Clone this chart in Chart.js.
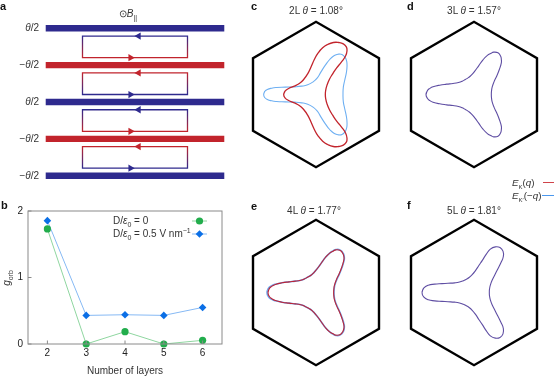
<!doctype html>
<html>

<head>
    <title>Orbital g factor</title>
    <meta charset="utf-8" />
    <script src="https://cdn.jsdelivr.net/npm/chart.js@4"></script>
    <style>
        html, body { margin: 0; background: #fff; overflow: hidden; }
        body { width: 554px; height: 377px; position: relative; font-family: "Liberation Sans", sans-serif; color: #333; }
        canvas { position: absolute; }
        .t { position: absolute; font-size: 10px; line-height: 12px; white-space: nowrap; transform: translate(-50%, -50%); }
        .r { transform: translate(-100%, -50%); }
        .l { transform: translate(0, -50%); }
        .p { font-weight: bold; font-size: 11px; color: #111; transform: translate(0, -50%); }
        .v { font-size: 9.8px; }
        sub, sup { font-size: 7px; line-height: 0; }
        .v sub { font-size: 6px; }
        i { font-style: italic; }
        .k { position: absolute; height: 1px; }
    </style>
</head>

<body>
    <canvas id="joonisA" width="240" height="190" style="left:0;top:0"></canvas>
    <canvas id="joonisB" width="240" height="187" style="left:0;top:190px"></canvas>
    <canvas id="joonisC" width="160" height="161" style="left:236px;top:14px"></canvas>
    <canvas id="joonisD" width="160" height="161" style="left:394px;top:14px"></canvas>
    <canvas id="joonisE" width="160" height="161" style="left:236px;top:212px"></canvas>
    <canvas id="joonisF" width="160" height="161" style="left:394px;top:212px"></canvas>

    <div class="t p" style="left:0;top:6px">a</div>
    <div class="t p" style="left:1px;top:205px">b</div>
    <div class="t p" style="left:251px;top:6px">c</div>
    <div class="t p" style="left:407px;top:6px">d</div>
    <div class="t p" style="left:251px;top:206px">e</div>
    <div class="t p" style="left:407px;top:205px">f</div>

    <div class="t" style="left:128px;top:14px">&#8857;<i>B</i><sub>||</sub></div>
    <div class="t r" style="left:39px;top:28px"><i>&#952;</i>/2</div>
    <div class="t r" style="left:39px;top:65px">&#8722;<i>&#952;</i>/2</div>
    <div class="t r" style="left:39px;top:102px"><i>&#952;</i>/2</div>
    <div class="t r" style="left:39px;top:139px">&#8722;<i>&#952;</i>/2</div>
    <div class="t r" style="left:39px;top:176px">&#8722;<i>&#952;</i>/2</div>

    <div class="t l" style="left:113px;top:221px">D/<i>&#949;</i><sub>0</sub> = 0</div>
    <div class="t l" style="left:113px;top:234px">D/<i>&#949;</i><sub>0</sub> = 0.5 V nm<sup>&#8722;1</sup></div>
    <div class="t" style="left:7px;top:278px;transform:translate(-50%,-50%) rotate(-90deg)"><i>g</i><sub>orb</sub></div>

    <div class="t" style="left:316px;top:11px">2L <i>&#952;</i> = 1.08&#176;</div>
    <div class="t" style="left:474px;top:11px">3L <i>&#952;</i> = 1.57&#176;</div>
    <div class="t" style="left:314px;top:211px">4L <i>&#952;</i> = 1.77&#176;</div>
    <div class="t" style="left:474px;top:211px">5L <i>&#952;</i> = 1.81&#176;</div>

    <div class="t l v" style="left:512px;top:183px"><i>E</i><sub>K</sub>(<i>q</i>)</div>
    <div class="t l v" style="left:512px;top:196px"><i>E</i><sub>K&#8242;</sub>(&#8722;<i>q</i>)</div>
    <div class="k" style="left:543px;top:182px;width:11px;background:#d0434a"></div>
    <div class="k" style="left:542px;top:195px;width:12px;background:#4a98ee"></div>

    <script>
        // paneel b
        const kihid = [2, 3, 4, 5, 6];
        const gTicks = [0, 1, 2];
        const gNullis = [1.73, 0.0, 0.185, 0.0, 0.055];
        const gValjaga = [1.855, 0.43, 0.44, 0.43, 0.55];

        // paneel a
        const kihtY = [0, 1, 2, 3, 4];
        const kihtVarv = ["#2e2a8e", "#c2242c", "#2e2a8e", "#c2242c", "#2e2a8e"];
        const silmusY = [0, 1, 2, 3];

        // kuusnurk ja Fermi kontuurid, nurga raadius on 218 yhikut
        const kuusnurk = [[94.5, 163.5], [189, 109], [189, -109], [0, -218], [-189, -109], [-189, 109], [0, 218], [94.5, 163.5]];
        const c2LPunane = [[-97, 0], [-93, 10], [-82, 18], [-65, 25], [-50, 33], [-37, 45], [-25, 62], [-14, 85], [-5, 105], [6, 124], [20, 140], [35, 150], [52, 156], [68, 156], [82, 152], [91, 143], [93, 132], [89, 116], [76, 97], [62, 80], [50, 62], [40, 45], [33, 28], [29, 12], [28, 0], [29, -12], [33, -28], [40, -45], [50, -62], [62, -80], [76, -97], [89, -116], [93, -132], [91, -143], [82, -152], [68, -156], [52, -156], [35, -150], [20, -140], [6, -124], [-5, -105], [-14, -85], [-25, -62], [-37, -45], [-50, -33], [-65, -25], [-82, -18], [-93, -10]];
        const c2LSinine = [[-157, 0], [-154, 9], [-146, 15], [-133, 19], [-118, 21], [-92, 22], [-65, 23], [-43, 25], [-25, 29], [-10, 37], [4, 50], [15, 68], [28, 88], [41, 105], [55, 117], [68, 121], [78, 120], [87, 112], [92, 100], [93, 83], [91, 65], [86, 42], [82, 22], [81, 0], [82, -22], [86, -42], [91, -65], [93, -83], [92, -100], [87, -112], [78, -120], [68, -121], [55, -117], [41, -105], [28, -88], [15, -68], [4, -50], [-10, -37], [-25, -29], [-43, -25], [-65, -23], [-92, -22], [-118, -21], [-133, -19], [-146, -15], [-154, -9]];
        const d3L = [[-144, 0], [-139.5, 12], [-132, 18.5], [-123, 23], [-103, 28], [-82, 31], [-63, 33], [-46.5, 36], [-35, 40], [-26, 45], [-17, 50.5], [-8, 58], [3, 71], [14, 86], [27, 104], [41, 118], [50, 123], [59, 127], [72, 125], [80, 115], [82, 105], [82, 95], [76, 75], [68, 55], [60, 38], [54.5, 22], [52.5, 10], [52, 0], [52.5, -10], [54.5, -22], [60, -38], [68, -55], [76, -75], [82, -95], [82, -105], [80, -115], [72, -125], [59, -127], [50, -123], [41, -118], [27, -104], [14, -86], [3, -71], [-8, -58], [-17, -50.5], [-26, -45], [-35, -40], [-46.5, -36], [-63, -33], [-82, -31], [-103, -28], [-123, -23], [-132, -18.5], [-139.5, -12]];
        const e4LPunane = [[-144, 0], [-140, 12], [-132, 19], [-122, 24], [-102, 29], [-81, 32], [-62, 34], [-45.5, 37], [-34, 41], [-25, 46], [-16, 51], [-7, 59], [4, 72], [15, 87], [28, 105], [42, 119], [51, 124], [60, 128], [73, 126], [81, 116], [84, 105], [83, 95], [77, 75], [69, 55], [61, 38], [55.5, 22], [53.5, 10], [53, 0], [53.5, -10], [55.5, -22], [61, -38], [69, -55], [77, -75], [83, -95], [84, -105], [81, -116], [73, -126], [60, -128], [51, -124], [42, -119], [28, -105], [15, -87], [4, -72], [-7, -59], [-16, -51], [-25, -46], [-34, -41], [-45.5, -37], [-62, -34], [-81, -32], [-102, -29], [-122, -24], [-132, -19], [-140, -12]];
        const e4LSinine = [[-147, 0], [-143, 12], [-134, 20], [-122, 25], [-102, 29], [-81, 32], [-62, 34], [-45.5, 37], [-34, 41], [-25, 46], [-16, 51], [-7, 59], [4, 72], [15, 87], [28, 105], [42, 119], [51, 125], [60, 129], [73, 127], [82, 117], [85, 105], [84, 95], [78, 75], [70, 55], [62, 38], [56.5, 22], [54.5, 10], [54, 0], [54.5, -10], [56.5, -22], [62, -38], [70, -55], [78, -75], [84, -95], [85, -105], [82, -117], [73, -127], [60, -129], [51, -125], [42, -119], [28, -105], [15, -87], [4, -72], [-7, -59], [-16, -51], [-25, -46], [-34, -41], [-45.5, -37], [-62, -34], [-81, -32], [-102, -29], [-122, -25], [-134, -20], [-143, -12]];
        const f5L = [[-156, 0], [-151, 13], [-137, 22], [-118, 25], [-96, 26.5], [-78, 27.6], [-58, 29], [-43.5, 31.4], [-32, 35.4], [-23, 40], [-14.7, 45], [-5.4, 53.4], [4, 65], [15, 81.6], [25, 96.5], [37, 115], [49, 130], [64, 137], [78, 135], [87, 124], [88, 108], [81, 90], [71, 70], [63, 54], [54, 36], [49, 22], [46.5, 10], [46, 0], [46.5, -10], [49, -22], [54, -36], [63, -54], [71, -70], [81, -90], [88, -108], [87, -124], [78, -135], [64, -137], [49, -130], [37, -115], [25, -96.5], [15, -81.6], [4, -65], [-5.4, -53.4], [-14.7, -45], [-23, -40], [-32, -35.4], [-43.5, -31.4], [-58, -29], [-78, -27.6], [-96, -26.5], [-118, -25], [-137, -22], [-151, -13]];

        Chart.defaults.animation = false;
        Chart.defaults.font.family = '"Liberation Sans", sans-serif';
        Chart.defaults.font.size = 10;
        Chart.defaults.color = "#222";
        Chart.defaults.layout.autoPadding = false;

        const ilmaLegendita = { legend: { display: false }, tooltip: { enabled: false }, title: { display: false } };

        function punktid(paarid) {
            return paarid.map(p => ({ x: p[0], y: p[1] }));
        }

        // tommab joone kinni, kaks esimest punkti tulevad uuesti et ots oleks sile
        function kinni(paarid) {
            return punktid([...paarid, paarid[0], paarid[1]]);
        }

        function kontuur(paarid, varv, laius) {
            return { data: kinni(paarid), borderColor: varv, borderWidth: laius, tension: 0.5, pointRadius: 0, showLine: true, clip: false };
        }

        function kuusnurkJoonis(id, kontuurid) {
            new Chart(document.getElementById(id), {
                type: "scatter",
                data: {
                    datasets: [...kontuurid, {
                        data: punktid(kuusnurk), borderColor: "#000", borderWidth: 2.4, borderJoinStyle: "miter",
                        pointRadius: 0, showLine: true, clip: false
                    }]
                },
                options: {
                    responsive: false,
                    plugins: ilmaLegendita,
                    scales: {
                        x: { display: false, min: -240, max: 240 },
                        y: { display: false, min: -241.5, max: 241.5 }
                    }
                }
            });
        }

        // esimene andmerida joonistub koige peale
        kuusnurkJoonis("joonisC", [kontuur(c2LPunane, "#c2242c", 1.3), kontuur(c2LSinine, "#6fb0f2", 1.1)]);
        kuusnurkJoonis("joonisD", [kontuur(d3L, "#5f4ea3", 1.1)]);
        kuusnurkJoonis("joonisE", [kontuur(e4LPunane, "#bd2436", 1.1), kontuur(e4LSinine, "#6fa8ee", 1.6)]);
        kuusnurkJoonis("joonisF", [kontuur(f5L, "#5f4ea3", 1.1)]);

        // paneel a
        const silmuseX = 0.588;
        const silmusYlal = 0.21;
        const silmusAll = 0.797;

        function silmuseVarv(i) {
            const yles = kihtVarv[i];
            const alla = kihtVarv[i + 1];
            return function (ctx) {
                const y = ctx.chart.scales.y;
                if (!y || !ctx.chart.chartArea) return yles;
                const g = ctx.chart.ctx.createLinearGradient(0, y.getPixelForValue(i + silmusYlal), 0, y.getPixelForValue(i + silmusAll));
                g.addColorStop(0, yles);
                g.addColorStop(1, alla);
                return g;
            };
        }

        new Chart(document.getElementById("joonisA"), {
            type: "scatter",
            data: {
                datasets: [
                    ...silmusY.map(k => ({
                        data: [{ x: 0.04, y: k + silmusYlal }],
                        pointStyle: "triangle", rotation: -90, pointRadius: 4.2, pointBorderWidth: 0, backgroundColor: kihtVarv[k]
                    })),
                    ...silmusY.map(k => ({
                        data: [{ x: -0.05, y: k + silmusAll }],
                        pointStyle: "triangle", rotation: 90, pointRadius: 4.2, pointBorderWidth: 0, backgroundColor: kihtVarv[k + 1]
                    })),
                    ...kihtY.map((k, i) => ({
                        data: [{ x: -1, y: k }, { x: 1, y: k }],
                        borderColor: kihtVarv[i], borderWidth: 6.4, borderCapStyle: "butt", pointRadius: 0, showLine: true
                    })),
                    ...silmusY.map(k => ({
                        data: [
                            { x: 0, y: k + silmusYlal }, { x: -silmuseX, y: k + silmusYlal }, { x: -silmuseX, y: k + silmusAll },
                            { x: silmuseX, y: k + silmusAll }, { x: silmuseX, y: k + silmusYlal }, { x: 0, y: k + silmusYlal }
                        ],
                        borderColor: silmuseVarv(k), borderWidth: 1.3, borderJoinStyle: "miter", pointRadius: 0, showLine: true
                    }))
                ]
            },
            options: {
                responsive: false,
                plugins: ilmaLegendita,
                scales: {
                    x: { display: false, min: -1.512, max: 1.176 },
                    y: { display: false, reverse: true, min: -0.768, max: 4.388 }
                }
            }
        });

        // raam, sissepoole kriipsud ja legendi naidised paneelile b
        const raamPlugin = {
            id: "raam",
            afterDatasetsDraw(chart) {
                const { ctx, chartArea: a, scales } = chart;
                ctx.save();
                ctx.strokeStyle = "#8a8a8a";
                ctx.lineWidth = 1;
                ctx.strokeRect(a.left, a.top, a.width, a.height);
                ctx.beginPath();
                kihid.forEach(v => {
                    const px = scales.x.getPixelForValue(v);
                    ctx.moveTo(px, a.bottom);
                    ctx.lineTo(px, a.bottom - 3.5);
                });
                gTicks.forEach(v => {
                    const py = scales.y.getPixelForValue(v);
                    ctx.moveTo(a.left, py);
                    ctx.lineTo(a.left + 3.5, py);
                });
                ctx.stroke();
                chart.data.datasets.forEach((ds, i) => {
                    const y = 31 + i * 13;
                    ctx.strokeStyle = ds.borderColor;
                    ctx.beginPath();
                    ctx.moveTo(192, y);
                    ctx.lineTo(207, y);
                    ctx.stroke();
                    ctx.fillStyle = ds.pointBackgroundColor;
                    ctx.strokeStyle = ds.pointBackgroundColor;
                    Chart.helpers.drawPoint(ctx, { pointStyle: ds.pointStyle, radius: ds.pointRadius, rotation: 0, borderWidth: 0 }, 199.5, y);
                });
                ctx.restore();
            }
        };

        new Chart(document.getElementById("joonisB"), {
            type: "line",
            data: {
                datasets: [
                    {
                        data: kihid.map((k, i) => ({ x: k, y: gNullis[i] })),
                        borderColor: "#8fd6a0", borderWidth: 1, pointStyle: "circle", pointRadius: 3.6, pointBorderWidth: 0,
                        pointBackgroundColor: "#22ad4c", clip: false
                    },
                    {
                        data: kihid.map((k, i) => ({ x: k, y: gValjaga[i] })),
                        borderColor: "#86b9f4", borderWidth: 1, pointStyle: "rectRot", pointRadius: 3.8, pointBorderWidth: 0,
                        pointBackgroundColor: "#0b6fe6", clip: false
                    }
                ]
            },
            options: {
                responsive: false,
                layout: { padding: { top: 21, right: 18 } },
                plugins: ilmaLegendita,
                scales: {
                    x: {
                        type: "linear", min: 1.5, max: 6.5,
                        grid: { display: false, drawTicks: false }, border: { display: false },
                        afterBuildTicks: s => { s.ticks = kihid.map(v => ({ value: v })); },
                        afterFit: s => { s.height = 33; },
                        ticks: { padding: 3, maxRotation: 0, callback: v => v },
                        title: { display: true, text: "Number of layers", font: { size: 10 }, color: "#333", padding: { top: 5, bottom: 0 } }
                    },
                    y: {
                        min: 0, max: 2,
                        grid: { display: false, drawTicks: false }, border: { display: false },
                        afterBuildTicks: s => { s.ticks = gTicks.map(v => ({ value: v })); },
                        afterFit: s => { s.width = 28; },
                        ticks: { padding: 5, callback: v => v }
                    }
                }
            },
            plugins: [raamPlugin]
        });
    </script>
</body>

</html>
